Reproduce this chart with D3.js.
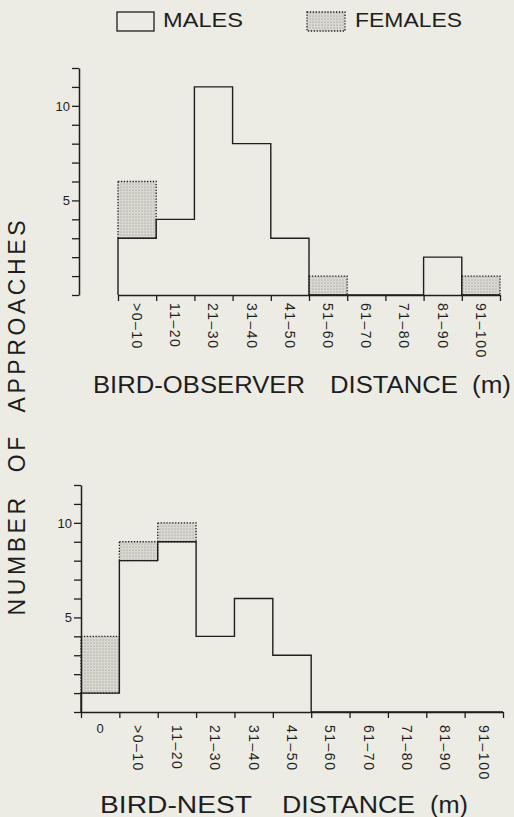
<!DOCTYPE html>
<html><head><meta charset="utf-8">
<script src="https://cdn.jsdelivr.net/npm/d3@7"></script>
<style>
body{margin:0;background:#ecece5}
text{font-family:"Liberation Sans",Arial,Helvetica,sans-serif;fill:#1e1e1e}
</style>
</head><body>
<svg id="c" width="514" height="817"></svg>
<script>
// ---------- data ----------
const obsCategories = [">0–10","11–20","21–30","31–40","41–50","51–60","61–70","71–80","81–90","91–100"];
const obsMales      = [3, 4, 11, 8, 3, 0, 0, 0, 2, 0];
const obsFemales    = [3, 0, 0, 0, 0, 1, 0, 0, 0, 1];

const nestCategories = ["0",">0–10","11–20","21–30","31–40","41–50","51–60","61–70","71–80","81–90","91–100"];
const nestMales      = [1, 8, 9, 4, 6, 3, 0, 0, 0, 0, 0];
const nestFemales    = [3, 1, 1, 0, 0, 0, 0, 0, 0, 0, 0];

const yTicks = [0,1,2,3,4,5,6,7,8,9,10,11,12];
const yTickLabels = [5, 10];
const legendLabels = ["MALES", "FEMALES"];
const yTitle = "NUMBER OF APPROACHES";
const obsTitleWords = ["BIRD-OBSERVER", "DISTANCE", "(m)"];
const nestTitleWords = ["BIRD-NEST", "DISTANCE", "(m)"];

// ---------- drawing ----------
const svg = d3.select("#c");
svg.append("rect").attr("width",514).attr("height",817).attr("fill","#ecece5");
const defs = svg.append("defs");
const pat = defs.append("pattern").attr("id","stip").attr("patternUnits","userSpaceOnUse")
  .attr("width",3).attr("height",3);
pat.append("rect").attr("width",3).attr("height",3).attr("fill","#d9d9d2");
pat.append("circle").attr("cx",1).attr("cy",1).attr("r",0.55).attr("fill","#85857f");

const INK = "#1e1e1e";

function panel(cfg){
  const n = cfg.categories.length;
  const xb = d3.scaleLinear().domain([0,n]).range(cfg.xRange);
  const xBand = d3.scaleBand().domain(cfg.categories).range(cfg.xRange);
  const y = d3.scaleLinear().domain([0,12]).range(cfg.yRange);
  const g = svg.append("g");

  // female stacked boxes
  const fem = cfg.categories.map((c,i)=>({i, m:cfg.males[i], f:cfg.females[i]})).filter(d=>d.f>0);
  g.selectAll("rect.fem").data(fem).join("rect")
    .attr("x", d=>xb(d.i)).attr("width", d=>xb(d.i+1)-xb(d.i))
    .attr("y", d=>y(d.m+d.f)).attr("height", d=>y(d.m)-y(d.m+d.f))
    .attr("fill","url(#stip)").attr("stroke",INK).attr("stroke-width",1.3)
    .attr("stroke-dasharray","1.3 1.6");

  // male step outline
  let p = d3.path();
  p.moveTo(xb(0), y(0));
  cfg.males.forEach((m,i)=>{ p.lineTo(xb(i), y(m)); p.lineTo(xb(i+1), y(m)); });
  p.lineTo(xb(n), y(0));
  g.append("path").attr("d", p.toString()).attr("fill","none")
    .attr("stroke",INK).attr("stroke-width",1.4);

  // y axis
  const ya = g.append("g").attr("transform",`translate(${cfg.yAxisX},0)`)
    .call(d3.axisLeft(y).tickValues(yTicks).tickSize(7).tickSizeOuter(0)
      .tickFormat(d=>yTickLabels.includes(d)? d : ""));
  ya.select(".domain").attr("stroke",INK).attr("stroke-width",1.5);
  ya.selectAll(".tick line").attr("stroke",INK).attr("stroke-width",1.3);
  ya.selectAll(".tick text").attr("font-size",13).attr("fill",INK).attr("x",-9)
    .style("font-family",'"Liberation Sans",Arial,sans-serif');

  // x axis (ticks at bin edges)
  const xa = g.append("g").attr("transform",`translate(0,${y(0)})`)
    .call(d3.axisBottom(xb).tickValues(d3.range(0,n+1)).tickSize(6).tickSizeOuter(0).tickFormat(""));
  xa.select(".domain").attr("stroke",INK).attr("stroke-width",1.5);
  xa.selectAll(".tick line").attr("stroke",INK).attr("stroke-width",1.3);

  // category labels
  cfg.categories.forEach(c=>{
    const cx = xBand(c) + xBand.bandwidth()/2;
    if (c === "0") {
      g.append("text").attr("x",cx).attr("y",cfg.labelTop+8).attr("text-anchor","middle")
        .attr("font-size",13).text(c);
    } else {
      g.append("text").attr("transform",`translate(${cx},${cfg.labelTop}) rotate(90)`)
        .attr("dy","0.36em").attr("font-size",14).attr("letter-spacing",1.5).text(c);
    }
  });

  // title words
  cfg.titleWords.forEach((w,k)=>{
    g.append("text").attr("x",cfg.titlePos[k][0]).attr("y",cfg.titleY)
      .attr("font-size",23).attr("textLength",cfg.titlePos[k][1]).attr("lengthAdjust","spacingAndGlyphs")
      .text(w);
  });
}

panel({categories:obsCategories, males:obsMales, females:obsFemales,
  xRange:[118,500], yRange:[295,68], yAxisX:79, labelTop:303,
  titleWords:obsTitleWords, titleY:393,
  titlePos:[[93,212],[330,128],[472,39]]});

panel({categories:nestCategories, males:nestMales, females:nestFemales,
  xRange:[81,503], yRange:[712,485], yAxisX:81, labelTop:725,
  titleWords:nestTitleWords, titleY:813,
  titlePos:[[100,152],[282,133],[430,38]]});

// legend
const lg = svg.append("g");
lg.append("rect").attr("x",117).attr("y",12).attr("width",37).attr("height",19)
  .attr("fill","none").attr("stroke",INK).attr("stroke-width",1.3);
lg.append("text").attr("x",163).attr("y",27).attr("font-size",19.5)
  .attr("textLength",80).attr("lengthAdjust","spacingAndGlyphs").text(legendLabels[0]);
lg.append("rect").attr("x",307).attr("y",12).attr("width",38).attr("height",19)
  .attr("fill","url(#stip)").attr("stroke",INK).attr("stroke-width",1.3).attr("stroke-dasharray","1.3 1.6");
lg.append("text").attr("x",355).attr("y",27).attr("font-size",19.5)
  .attr("textLength",107).attr("lengthAdjust","spacingAndGlyphs").text(legendLabels[1]);

// y title
svg.append("text").attr("transform","translate(25,418) rotate(-90)")
  .attr("text-anchor","middle").attr("font-size",23)
  .attr("textLength",395).attr("lengthAdjust","spacing").attr("word-spacing",12)
  .text(yTitle);
</script>
</body></html>
